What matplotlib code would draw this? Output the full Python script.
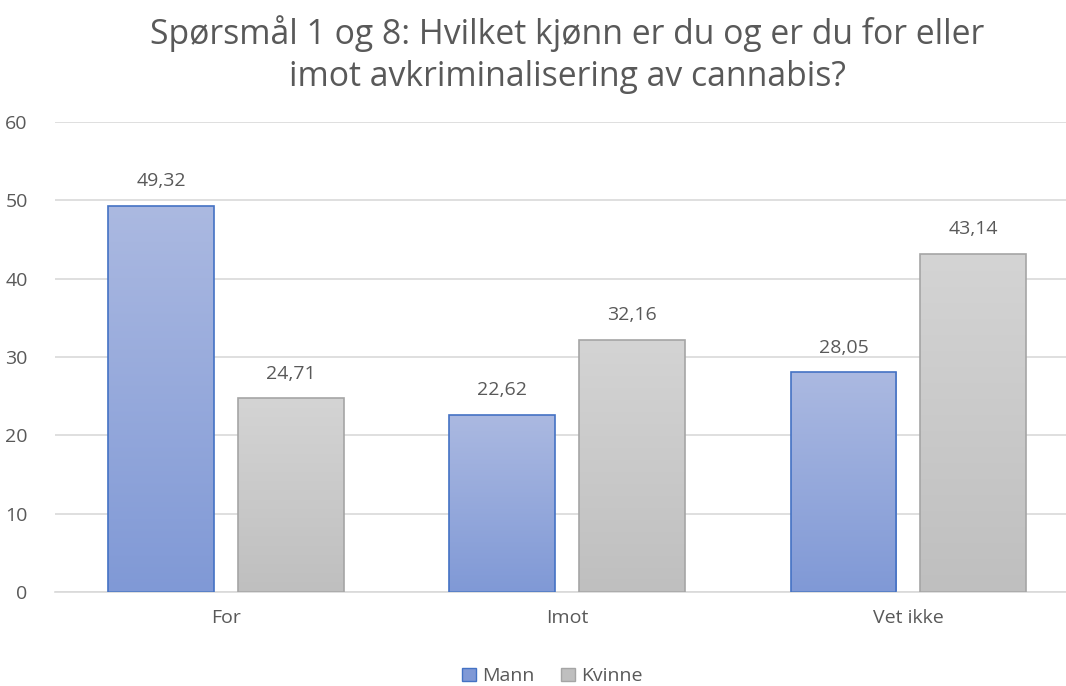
import matplotlib.pyplot as plt
import numpy as np
from matplotlib.colors import LinearSegmentedColormap
from matplotlib.patches import Patch

plt.rcParams['font.family'] = ['Open Sans', 'DejaVu Sans']

categories = ['For', 'Imot', 'Vet ikke']
mann = [49.32, 22.62, 28.05]
kvinne = [24.71, 32.16, 43.14]
series_names = ['Mann', 'Kvinne']

text_col = '#595959'
grid_col = '#d9d9d9'

fig = plt.figure(figsize=(10.66, 6.86), dpi=100)
ax = fig.add_axes([0.052, 0.137, 0.96, 0.685])

x = np.arange(len(categories))
width = 0.31
offset = 0.19

styles = [
    dict(top='#abb9e1', bottom='#8099d6', edge='#4472c4'),
    dict(top='#d4d4d4', bottom='#bfbfbf', edge='#a5a5a5'),
]

for vals, sign, st in zip([mann, kvinne], [-1, 1], styles):
    bars = ax.bar(x + sign * offset, vals, width, facecolor='none',
                  edgecolor=st['edge'], linewidth=1.2, zorder=3)
    cmap = LinearSegmentedColormap.from_list('g', [st['bottom'], st['top']])
    for b, v in zip(bars, vals):
        x0 = b.get_x()
        im = ax.imshow(np.linspace(0, 1, 256).reshape(-1, 1), cmap=cmap,
                       extent=[x0, x0 + b.get_width(), 0, v], origin='lower',
                       aspect='auto', zorder=2)
        im.set_clip_path(b)
        ax.text(b.get_x() + b.get_width() / 2, v + 2.0, f'{v:.2f}'.replace('.', ','),
                ha='center', va='bottom', fontsize=14, color=text_col)

ax.set_aspect('auto')
ax.set_xlim(-0.5, len(categories) - 0.5)
ax.set_ylim(0, 60)
ax.set_yticks(range(0, 61, 10))
ax.yaxis.grid(True, color=grid_col, linewidth=1.2, zorder=0)
ax.set_axisbelow(True)
for s in ['top', 'right', 'left']:
    ax.spines[s].set_visible(False)
ax.spines['bottom'].set_color(grid_col)
ax.spines['bottom'].set_linewidth(1.2)
ax.set_xticks(x)
ax.set_xticklabels(categories)
ax.tick_params(axis='both', length=0, labelsize=14, colors=text_col)
ax.tick_params(axis='x', pad=12)
ax.tick_params(axis='y', pad=20)

fig.suptitle('Spørsmål 1 og 8: Hvilket kjønn er du og er du for eller\nimot avkriminalisering av cannabis?',
             x=0.532, y=0.978, fontsize=24.3, color=text_col, linespacing=1.3)

handles = [Patch(facecolor=st['bottom'], edgecolor=st['edge']) for st in styles]
fig.legend(handles, series_names, loc='center', bbox_to_anchor=(0.518, 0.014),
           ncol=2, frameon=False, fontsize=14, labelcolor=text_col,
           handlelength=0.7, handleheight=0.7, handletextpad=0.3, columnspacing=1.4)

fig.savefig('out.png', dpi=100)
